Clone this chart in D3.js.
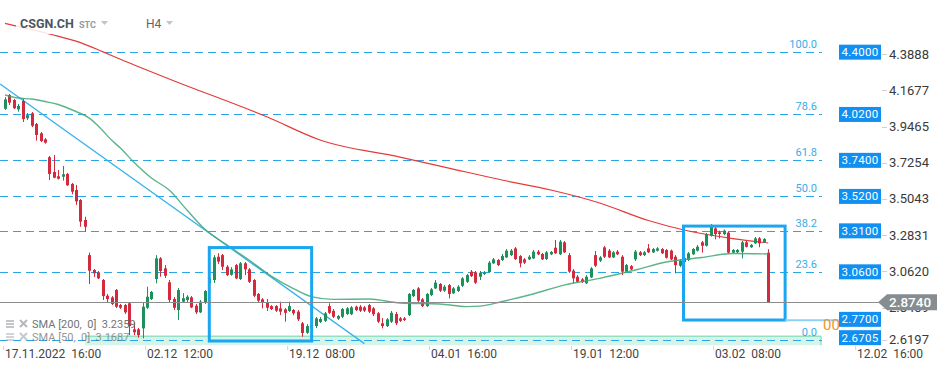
<!DOCTYPE html>
<html><head><meta charset="utf-8">
<script src="https://cdn.jsdelivr.net/npm/d3@7"></script>
<style>
html,body{margin:0;padding:0;background:#fff;}
svg{display:block;font-family:Roboto,"Noto Sans",Arial,sans-serif;}
</style></head>
<body>
<svg id="chart" width="949" height="370"></svg>
<script>
// ---------- DATA ----------
const symbol = "CSGN.CH", symbolType = "STC", timeframe = "H4";
const open = [4.055,4.139,4.108,4.051,4.102,3.997,4.027,3.962,3.905,3.868,
3.759,3.669,3.643,3.640,3.657,3.596,3.559,3.498,3.376,3.162,
3.071,3.057,3.010,2.914,2.904,2.949,2.857,2.857,2.868,2.709,
2.709,2.715,2.841,2.894,3.016,3.142,3.081,2.996,2.894,2.827,
2.878,2.888,2.904,2.853,2.813,2.872,2.990,3.010,3.152,3.162,
3.091,3.042,3.101,3.016,3.112,3.075,3.010,2.925,2.892,2.874,
2.851,2.851,2.837,2.831,2.821,2.827,2.817,2.746,2.688,2.721,
2.729,2.754,2.761,2.851,2.822,2.774,2.786,2.803,2.801,2.847,
2.847,2.843,2.857,2.837,2.807,2.746,2.729,2.756,2.803,2.776,
2.776,2.796,2.912,2.959,2.892,2.851,2.918,2.959,2.986,2.945,
2.979,2.929,2.943,2.975,2.999,3.061,3.057,3.030,3.047,3.059,
3.112,3.132,3.132,3.148,3.162,3.203,3.156,3.136,3.136,3.142,
3.183,3.169,3.138,3.167,3.207,3.167,3.240,3.162,3.067,3.030,
3.014,2.990,3.026,3.162,3.128,3.209,3.189,3.148,3.183,3.152,
3.061,3.095,3.136,3.179,3.162,3.203,3.179,3.189,3.199,3.193,
3.189,3.152,3.097,3.120,3.132,3.167,3.189,3.240,3.219,3.280,
3.325,3.301,3.290,3.299,3.177,3.179,3.183,3.240,3.210,3.234,
3.264,3.240,3.177];
const close = [4.112,4.092,4.058,4.072,3.992,4.015,3.951,3.895,3.858,3.848,
3.657,3.634,3.628,3.655,3.588,3.549,3.490,3.366,3.335,3.067,
3.051,3.020,2.912,2.894,2.864,2.847,2.841,2.813,2.729,2.691,
2.674,2.847,2.908,2.937,3.142,3.065,3.036,2.888,2.841,2.949,
2.899,2.908,2.843,2.813,2.878,2.943,3.020,3.148,3.122,3.091,
3.040,3.075,3.020,3.112,3.075,2.999,2.914,2.884,2.874,2.841,
2.833,2.823,2.817,2.810,2.851,2.807,2.770,2.687,2.729,2.735,
2.776,2.772,2.807,2.810,2.786,2.790,2.833,2.837,2.843,2.827,
2.823,2.823,2.817,2.801,2.756,2.729,2.770,2.810,2.746,2.761,
2.766,2.925,2.949,2.884,2.851,2.925,2.953,2.994,2.945,2.969,
2.925,2.959,2.969,3.020,3.040,3.034,2.994,3.054,3.054,3.116,
3.136,3.101,3.156,3.189,3.189,3.138,3.112,3.116,3.152,3.183,
3.167,3.136,3.179,3.181,3.173,3.244,3.179,3.061,3.020,2.999,
2.999,3.030,3.081,3.097,3.148,3.152,3.148,3.179,3.167,3.061,
3.101,3.075,3.183,3.162,3.179,3.179,3.199,3.203,3.173,3.146,
3.136,3.101,3.128,3.144,3.173,3.199,3.213,3.219,3.290,3.346,
3.290,3.291,3.311,3.177,3.193,3.193,3.240,3.213,3.224,3.264,
3.234,3.260,2.874];
const high = [4.126,4.145,4.114,4.084,4.114,4.029,4.035,3.968,3.913,3.876,
3.767,3.773,3.681,3.706,3.663,3.602,3.590,3.504,3.396,3.177,
3.077,3.065,3.016,2.925,2.912,2.955,2.864,2.864,2.876,2.754,
2.717,2.876,2.969,2.943,3.162,3.150,3.101,3.010,2.906,2.961,
2.930,2.918,2.912,2.864,2.888,2.949,3.028,3.162,3.173,3.169,
3.101,3.089,3.108,3.120,3.120,3.083,3.016,2.931,2.900,2.894,
2.857,2.857,2.878,2.839,2.878,2.833,2.827,2.754,2.741,2.748,
2.784,2.784,2.815,2.868,2.833,2.796,2.839,2.845,2.851,2.854,
2.857,2.851,2.864,2.845,2.815,2.778,2.778,2.821,2.815,2.784,
2.784,2.931,2.955,2.967,2.900,2.931,2.961,3.010,2.992,2.979,
2.986,2.967,2.979,3.028,3.047,3.071,3.065,3.065,3.065,3.126,
3.144,3.138,3.169,3.199,3.199,3.211,3.162,3.144,3.162,3.193,
3.193,3.175,3.187,3.187,3.254,3.254,3.248,3.175,3.077,3.040,
3.022,3.040,3.089,3.187,3.156,3.218,3.199,3.187,3.193,3.162,
3.108,3.101,3.193,3.187,3.187,3.230,3.205,3.211,3.205,3.199,
3.196,3.162,3.138,3.150,3.181,3.205,3.224,3.248,3.297,3.352,
3.333,3.311,3.318,3.306,3.199,3.199,3.248,3.248,3.230,3.272,
3.272,3.266,3.198];
const low = [4.047,4.078,4.053,4.037,3.974,3.986,3.943,3.860,3.852,3.842,
3.620,3.631,3.623,3.616,3.584,3.533,3.468,3.335,3.305,2.986,
3.028,3.016,2.888,2.871,2.857,2.839,2.833,2.803,2.674,2.674,
2.658,2.654,2.833,2.888,2.990,3.030,3.022,2.876,2.827,2.766,
2.870,2.876,2.839,2.803,2.808,2.864,2.979,2.992,3.108,3.071,
3.034,3.036,3.016,3.010,3.040,2.992,2.906,2.876,2.837,2.821,
2.827,2.815,2.796,2.756,2.815,2.796,2.760,2.664,2.681,2.717,
2.717,2.748,2.754,2.803,2.778,2.766,2.778,2.796,2.796,2.821,
2.815,2.815,2.808,2.790,2.748,2.715,2.723,2.748,2.735,2.754,
2.760,2.790,2.906,2.876,2.845,2.845,2.912,2.955,2.937,2.937,
2.898,2.925,2.937,2.967,2.992,3.028,2.986,3.010,3.040,3.053,
3.108,3.095,3.126,3.144,3.156,3.132,3.087,3.108,3.132,3.138,
3.162,3.132,3.132,3.162,3.169,3.162,3.175,3.053,2.990,2.992,
2.992,2.986,3.022,3.089,3.120,3.144,3.144,3.144,3.162,3.040,
3.053,3.071,3.126,3.156,3.156,3.175,3.175,3.184,3.169,3.141,
3.132,3.051,3.089,3.114,3.126,3.162,3.184,3.177,3.214,3.275,
3.258,3.264,3.284,3.172,3.172,3.175,3.142,3.208,3.206,3.230,
3.210,3.236,2.872];

// moving averages at given bar indices
const sma200Idx = [0,10,17,22,26,38,59,71,89,100,112,123,134,145,153,164,172];
const sma200Val = [4.576,4.511,4.458,4.403,4.357,4.226,4.006,3.864,3.760,3.693,3.620,3.559,3.480,3.373,3.315,3.263,3.236];
const sma50Idx = [0,3,6,9,12,16,19,21,24,26,29,33,37,41,45,50,55,60,65,69,74,82,89,98,104,107,112,119,126,134,142,149,157,164,172];
const sma50Val = [4.139,4.120,4.114,4.099,4.081,4.038,3.998,3.950,3.864,3.815,3.730,3.632,3.559,3.437,3.321,3.224,3.132,3.034,2.958,2.909,2.892,2.894,2.870,2.864,2.848,2.851,2.879,2.925,2.979,3.020,3.071,3.120,3.147,3.172,3.169];
const legendItems = ["SMA [200,  0]  3.2359", "SMA [50,  0]  3.1687"];

// trendline (index, value)
const trendIdx = [-1.1, 81];
const trendVal = [4.206, 2.622];

// fibonacci retracement
const fibPct = ["100.0","78.6","61.8","50.0","38.2","23.6","0.0"];
const fibVal = [4.40, 4.02, 3.74, 3.52, 3.31, 3.06, 2.6705];
const fibLabelVal = ["4.4000","4.0200","3.7400","3.5200","3.3100","3.0600","2.6705"];
const fibBandIdx = [18, 183.9];
const fibBandVal = [2.6705, 2.612];

// rectangles [i0, i1, vTop, vBottom]
const rectIdx0 = [46.04, 152.9];
const rectIdx1 = [69.1, 175.8];
const rectTop = [3.208, 3.339];
const rectBottom = [2.638, 2.766];

// extra price label (ray) at 2.77
const rayVal = 2.77, rayLabel = "2.7700";
const lastPrice = 2.874, lastLabel = "2.8740";
const timerLabel = "00";

// axes
const yTicks = [4.3888,4.1677,3.9465,3.7254,3.5043,3.2831,3.0620,2.8409,2.6197];
const xTickIdx = [0,32,64,96,128,160,192];
const xTickDate = ["17.11.2022","02.12","19.12","04.01","19.01","03.02","12.02"];
const xTickTime = ["16:00","12:00","08:00","16:00","12:00","08:00","16:00"];

// ---------- DRAW ----------
const svg = d3.select("#chart");
const W = 949, H = 370;
svg.append("rect").attr("width", W).attr("height", H).attr("fill", "#fff");

const x = d3.scaleLinear().domain([0, 32]).range([5, 147]);
const y = d3.scaleLinear().domain([2.6197, 4.3888]).range([344, 54]);

const plot = svg.append("g");
svg.append("defs").append("clipPath").attr("id","clip")
  .append("rect").attr("x",0).attr("y",0).attr("width",830).attr("height",346);
const cp = plot.append("g").attr("clip-path","url(#clip)");

const fibColor = "#2aa5e6";
// band
cp.append("rect")
  .attr("x", x(fibBandIdx[0])).attr("y", y(fibBandVal[0]))
  .attr("width", x(fibBandIdx[1]) - x(fibBandIdx[0]))
  .attr("height", y(fibBandVal[1]) - y(fibBandVal[0]))
  .attr("fill", "#d6f4ea");
cp.append("path")
  .attr("d", `M${x(fibBandIdx[0])},${y(fibBandVal[0])+0.5}H${x(fibBandIdx[1])}V${y(fibBandVal[1])}`)
  .attr("fill","none").attr("stroke","#74d6b1").attr("stroke-width",1);

// fib lines
fibVal.forEach((v,k) => {
  const yy = Math.round(y(v) + (k === fibVal.length-1 ? 4 : 0)) + 0.5;
  cp.append("line").attr("x1",0).attr("x2",822).attr("y1",yy).attr("y2",yy)
    .attr("stroke",fibColor).attr("stroke-width",1).attr("stroke-dasharray","8,5");
  cp.append("text").attr("x",817).attr("y",yy-5).attr("text-anchor","end")
    .attr("font-size",11).attr("fill","#38ade8").text(fibPct[k]);
});

// last price line
plot.append("line").attr("x1",0).attr("x2",880)
  .attr("y1",Math.round(y(lastPrice))+0.5).attr("y2",Math.round(y(lastPrice))+0.5)
  .attr("stroke","#8c8c8c").attr("stroke-width",1);

// SMA 200
const line = d3.line().curve(d3.curveMonotoneX);
cp.append("path")
  .attr("d", line(sma200Idx.map((d,k)=>[x(d), y(sma200Val[k])])))
  .attr("fill","none").attr("stroke","#e53a3a").attr("stroke-width",1.2);

// trendline
cp.append("path")
  .attr("d", d3.line()(trendIdx.map((d,k)=>[x(d), y(trendVal[k])])))
  .attr("fill","none").attr("stroke","#3cb2ec").attr("stroke-width",1.3);

// candles
const up = "#1f8f5c", dn = "#d42a3d";
const idx = d3.range(open.length);
const cg = cp.append("g");
idx.forEach(i => {
  const c = close[i] >= open[i] ? up : dn;
  const cx = Math.round(x(i)) + 0.5;
  cg.append("line").attr("x1",cx).attr("x2",cx).attr("y1",y(high[i])).attr("y2",y(low[i]))
    .attr("stroke",c).attr("stroke-width",1);
  const top = y(Math.max(open[i],close[i])), bot = y(Math.min(open[i],close[i]));
  cg.append("rect").attr("x",cx-1.5).attr("y",top).attr("width",3).attr("height",Math.max(1,bot-top))
    .attr("fill",c);
});

// SMA 50
cp.append("path")
  .attr("d", line(sma50Idx.map((d,k)=>[x(d), y(sma50Val[k])])))
  .attr("fill","none").attr("stroke","#3fa777").attr("stroke-width",1.4).attr("stroke-opacity",0.85);

// rectangles
rectIdx0.forEach((d,k) => {
  cp.append("rect").attr("x", x(d)).attr("y", y(rectTop[k]))
    .attr("width", x(rectIdx1[k]) - x(d)).attr("height", y(rectBottom[k]) - y(rectTop[k]))
    .attr("fill","none").attr("stroke","#1aa7f0").attr("stroke-width",3);
});
// ray at 2.77
plot.append("line").attr("x1", x(rectIdx1[1])).attr("x2", 842)
  .attr("y1", y(rayVal)+1).attr("y2", y(rayVal)+1)
  .attr("stroke","#8fd0f5").attr("stroke-width",2);

// orange partially hidden label
svg.append("text").attr("x",823).attr("y",330).attr("font-size",15).attr("fill","#f7941d").text(timerLabel);

// legend
legendItems.forEach((t,k) => {
  const ly = 324 + k*13;
  const g = svg.append("g").attr("opacity", k===1?0.75:1);
  [-3,0,3].forEach(o => g.append("line").attr("x1",6).attr("x2",14).attr("y1",ly+o).attr("y2",ly+o)
     .attr("stroke","#b4b8bc").attr("stroke-width",1.6));
  g.append("path").attr("d",`M20,${ly-4}L27,${ly+3}M27,${ly-4}L20,${ly+3}`)
     .attr("stroke","#b4b8bc").attr("stroke-width",2);
  g.append("text").attr("x",32).attr("y",ly+4).attr("font-size",11).attr("fill","#6f7478")
     .attr("xml:space","preserve").style("white-space","pre").text(t);
});

// header
svg.append("rect").attr("x",16).attr("y",13).attr("width",165).attr("height",21).attr("fill","#fff").attr("opacity",0.85);
svg.append("text").attr("x",20).attr("y",28).attr("font-size",12.5).attr("font-weight","bold").attr("fill","#4b5661").text(symbol);
svg.append("text").attr("x",79).attr("y",27.5).attr("font-size",9).attr("font-weight","bold").attr("fill","#8d9aa6").text(symbolType);
svg.append("text").attr("x",146).attr("y",28).attr("font-size",12).attr("fill","#5a6570").text(timeframe);
[[101,21],[166,21]].forEach(p => svg.append("path")
  .attr("d",`M${p[0]},${p[1]}l7,0l-3.5,4z`).attr("fill","#bfc5cb"));

// right axis tick labels
yTicks.forEach(v => {
  const yy = Math.min(y(v), 339.5);
  svg.append("line").attr("x1",882).attr("x2",887).attr("y1",Math.round(yy)+0.5).attr("y2",Math.round(yy)+0.5)
    .attr("stroke","#d0d0d0");
  svg.append("text").attr("x",889).attr("y",yy+4.5).attr("font-size",13).attr("fill","#3a3a3a").text(v.toFixed(4));
});

// fib price boxes
const boxVals = fibVal.slice();
const boxLabs = fibLabelVal.slice();
boxVals.push(rayVal); boxLabs.push(rayLabel);
boxVals.forEach((v,k) => {
  let yy = y(v);
  if (k === fibVal.length-1) yy += 2;
  svg.append("rect").attr("x",839).attr("y",yy-7.5).attr("width",42).attr("height",15).attr("fill","#1290f2");
  svg.append("text").attr("x",860).attr("y",yy+4).attr("text-anchor","middle")
    .attr("font-size",11.5).attr("fill","#fff").attr("letter-spacing",0.3).text(boxLabs[k]);
});

// last price arrow label
const ly = y(lastPrice);
svg.append("path").attr("d",`M878,${ly}L887,${ly-8}H937V${ly+8}H887Z`).attr("fill","#858d91");
svg.append("text").attr("x",889).attr("y",ly+5).attr("font-size",13.5).attr("font-weight","500")
  .attr("fill","#fff").text(lastLabel);

// x axis
xTickIdx.forEach((d,k) => {
  const xx = Math.round(x(d));
  svg.append("line").attr("x1",xx-1.5).attr("x2",xx-1.5).attr("y1",346).attr("y2",350).attr("stroke","#d8d8d8");
  const t = svg.append("text").attr("x",xx).attr("y",358).attr("font-size",12).attr("fill","#444");
  t.append("tspan").text(xTickDate[k]);
  t.append("tspan").attr("dx",6).text(xTickTime[k]);
});
</script>
</body></html>
